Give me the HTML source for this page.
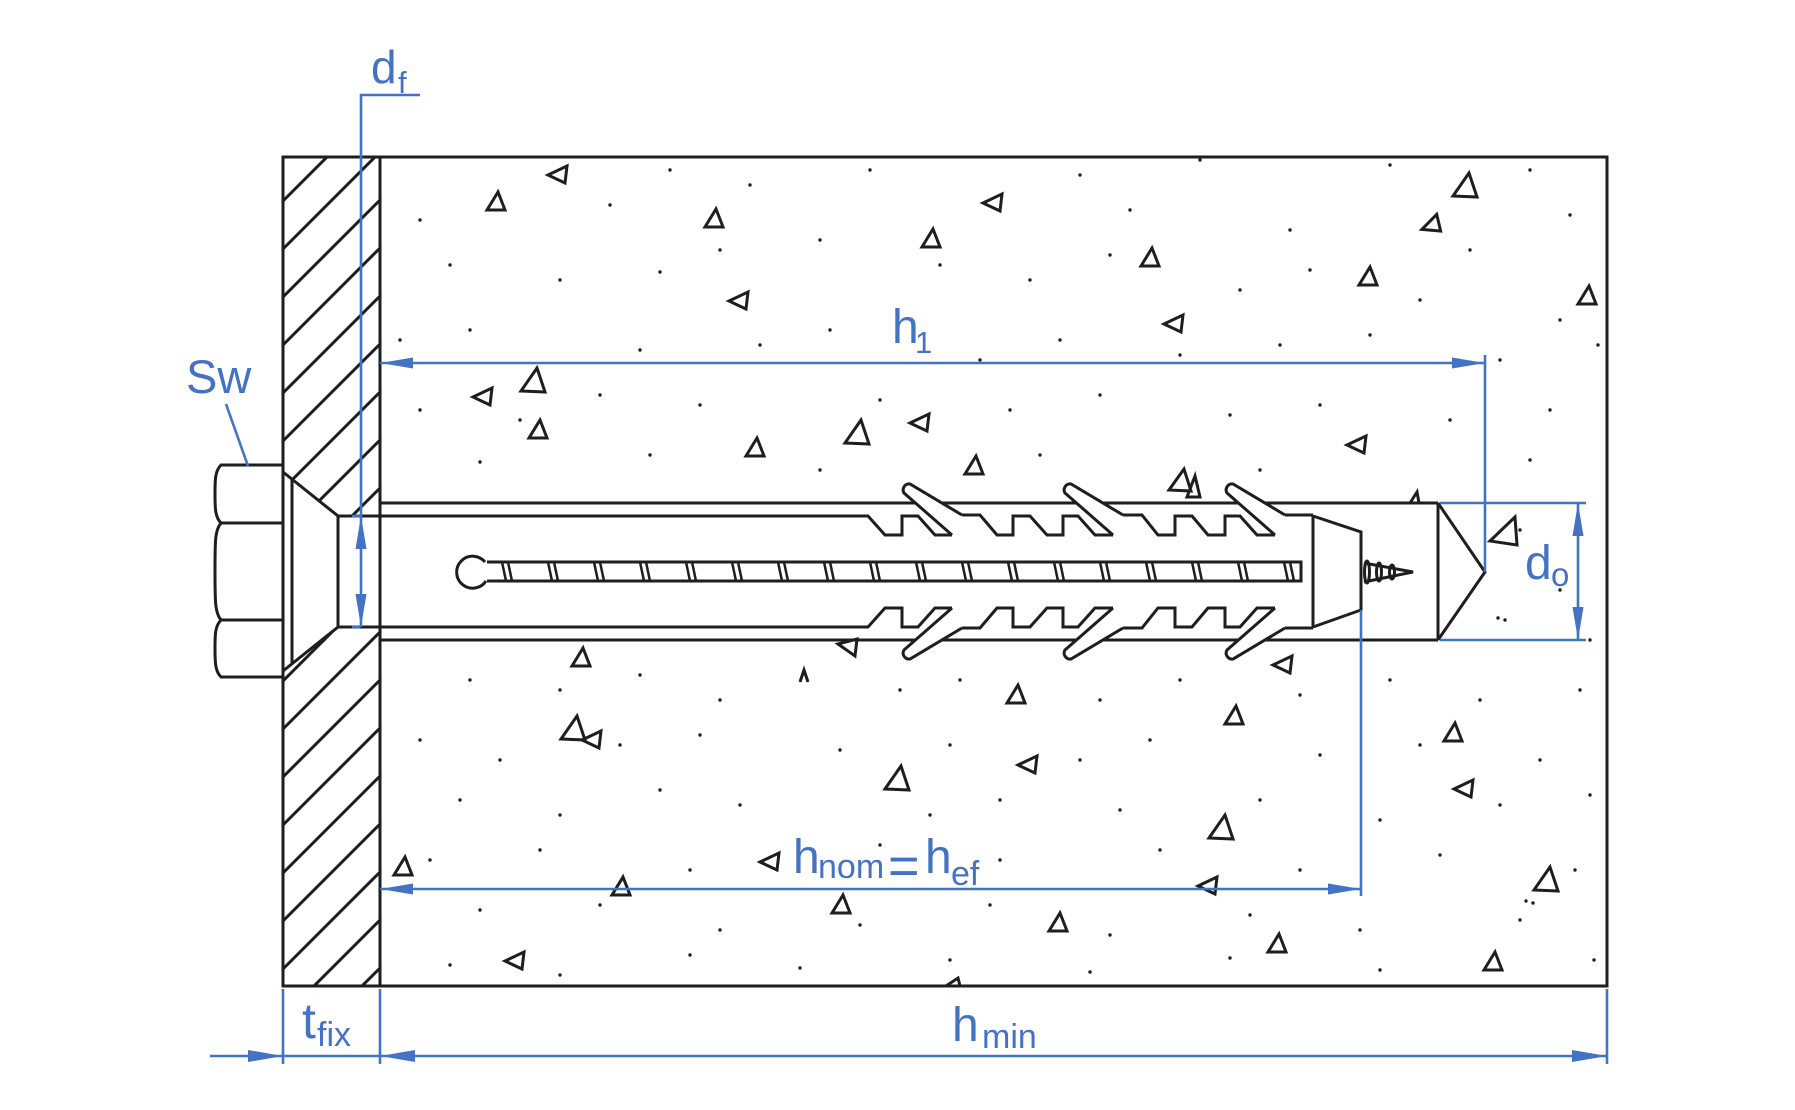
<!DOCTYPE html>
<html>
<head>
<meta charset="utf-8">
<style>
html,body{margin:0;padding:0;background:#fff;}
body{width:1795px;height:1110px;overflow:hidden;}
svg{display:block;}
text{font-family:"Liberation Sans",Arial,sans-serif;fill:#4472c4;}
</style>
</head>
<body>
<svg width="1795" height="1110" viewBox="0 0 1795 1110" xmlns="http://www.w3.org/2000/svg">
<defs>
<clipPath id="plate"><rect x="283" y="157" width="97" height="829"/></clipPath>
</defs>

<!-- hatch in plate -->
<g clip-path="url(#plate)" stroke="#1e1e1e" stroke-width="3">
<line x1="283" y1="153" x2="380" y2="56"/>
<line x1="283" y1="201" x2="380" y2="104"/>
<line x1="283" y1="249" x2="380" y2="152"/>
<line x1="283" y1="297" x2="380" y2="200"/>
<line x1="283" y1="345" x2="380" y2="248"/>
<line x1="283" y1="393" x2="380" y2="296"/>
<line x1="283" y1="441" x2="380" y2="344"/>
<line x1="283" y1="489" x2="380" y2="392"/>
<line x1="283" y1="537" x2="380" y2="440"/>
<line x1="283" y1="585" x2="380" y2="488"/>
<line x1="283" y1="633" x2="380" y2="536"/>
<line x1="283" y1="681" x2="380" y2="584"/>
<line x1="283" y1="729" x2="380" y2="632"/>
<line x1="283" y1="777" x2="380" y2="680"/>
<line x1="283" y1="825" x2="380" y2="728"/>
<line x1="283" y1="873" x2="380" y2="776"/>
<line x1="283" y1="921" x2="380" y2="824"/>
<line x1="283" y1="969" x2="380" y2="872"/>
<line x1="283" y1="1017" x2="380" y2="920"/>
<line x1="283" y1="1065" x2="380" y2="968"/>
<line x1="283" y1="1113" x2="380" y2="1016"/>
</g>
<!-- clear countersink + hole -->
<polygon points="283,472 338,516 380,516 380,627 338,627 283,671" fill="#fff"/>

<!-- concrete dots -->
<g fill="#1e1e1e">
<circle cx="670" cy="170" r="1.7"/><circle cx="750" cy="185" r="1.7"/><circle cx="870" cy="170" r="1.7"/><circle cx="1080" cy="175" r="1.7"/><circle cx="1200" cy="160" r="1.7"/><circle cx="1390" cy="165" r="1.7"/><circle cx="1530" cy="170" r="1.7"/>
<circle cx="420" cy="220" r="1.7"/><circle cx="610" cy="205" r="1.7"/><circle cx="820" cy="240" r="1.7"/><circle cx="1130" cy="210" r="1.7"/><circle cx="1290" cy="230" r="1.7"/><circle cx="1470" cy="250" r="1.7"/><circle cx="1570" cy="215" r="1.7"/>
<circle cx="450" cy="265" r="1.7"/><circle cx="560" cy="280" r="1.7"/><circle cx="660" cy="272" r="1.7"/><circle cx="720" cy="250" r="1.7"/><circle cx="940" cy="265" r="1.7"/><circle cx="1030" cy="280" r="1.7"/><circle cx="1110" cy="255" r="1.7"/><circle cx="1240" cy="290" r="1.7"/><circle cx="1310" cy="270" r="1.7"/><circle cx="1420" cy="300" r="1.7"/><circle cx="1560" cy="320" r="1.7"/>
<circle cx="400" cy="340" r="1.7"/><circle cx="470" cy="330" r="1.7"/><circle cx="640" cy="350" r="1.7"/><circle cx="760" cy="345" r="1.7"/><circle cx="830" cy="330" r="1.7"/><circle cx="980" cy="360" r="1.7"/><circle cx="1060" cy="340" r="1.7"/><circle cx="1180" cy="355" r="1.7"/><circle cx="1280" cy="345" r="1.7"/><circle cx="1370" cy="335" r="1.7"/><circle cx="1500" cy="360" r="1.7"/><circle cx="1598" cy="345" r="1.7"/>
<circle cx="420" cy="410" r="1.7"/><circle cx="520" cy="420" r="1.7"/><circle cx="600" cy="395" r="1.7"/><circle cx="700" cy="405" r="1.7"/><circle cx="880" cy="400" r="1.7"/><circle cx="1010" cy="410" r="1.7"/><circle cx="1100" cy="395" r="1.7"/><circle cx="1230" cy="415" r="1.7"/><circle cx="1320" cy="405" r="1.7"/><circle cx="1450" cy="420" r="1.7"/><circle cx="1550" cy="410" r="1.7"/>
<circle cx="480" cy="462" r="1.7"/><circle cx="650" cy="455" r="1.7"/><circle cx="820" cy="470" r="1.7"/><circle cx="1040" cy="455" r="1.7"/><circle cx="1260" cy="470" r="1.7"/><circle cx="1530" cy="460" r="1.7"/><circle cx="1560" cy="590" r="1.7"/><circle cx="1505" cy="620" r="1.7"/><circle cx="1590" cy="640" r="1.7"/><circle cx="1520" cy="530" r="1.7"/><circle cx="1498" cy="618" r="1.7"/>
<circle cx="470" cy="680" r="1.7"/><circle cx="560" cy="690" r="1.7"/><circle cx="640" cy="675" r="1.7"/><circle cx="720" cy="700" r="1.7"/><circle cx="900" cy="690" r="1.7"/><circle cx="960" cy="680" r="1.7"/><circle cx="1100" cy="700" r="1.7"/><circle cx="1180" cy="680" r="1.7"/><circle cx="1300" cy="695" r="1.7"/><circle cx="1390" cy="680" r="1.7"/><circle cx="1480" cy="700" r="1.7"/><circle cx="1580" cy="690" r="1.7"/>
<circle cx="420" cy="740" r="1.7"/><circle cx="500" cy="760" r="1.7"/><circle cx="620" cy="745" r="1.7"/><circle cx="700" cy="735" r="1.7"/><circle cx="840" cy="750" r="1.7"/><circle cx="950" cy="745" r="1.7"/><circle cx="1080" cy="760" r="1.7"/><circle cx="1150" cy="740" r="1.7"/><circle cx="1320" cy="755" r="1.7"/><circle cx="1420" cy="745" r="1.7"/><circle cx="1540" cy="760" r="1.7"/>
<circle cx="460" cy="800" r="1.7"/><circle cx="560" cy="815" r="1.7"/><circle cx="660" cy="790" r="1.7"/><circle cx="740" cy="805" r="1.7"/><circle cx="930" cy="815" r="1.7"/><circle cx="1000" cy="800" r="1.7"/><circle cx="1120" cy="810" r="1.7"/><circle cx="1260" cy="800" r="1.7"/><circle cx="1380" cy="820" r="1.7"/><circle cx="1500" cy="805" r="1.7"/><circle cx="1590" cy="795" r="1.7"/>
<circle cx="430" cy="860" r="1.7"/><circle cx="540" cy="850" r="1.7"/><circle cx="690" cy="870" r="1.7"/><circle cx="880" cy="845" r="1.7"/><circle cx="1000" cy="860" r="1.7"/><circle cx="1160" cy="850" r="1.7"/><circle cx="1300" cy="870" r="1.7"/><circle cx="1440" cy="855" r="1.7"/><circle cx="1575" cy="870" r="1.7"/>
<circle cx="480" cy="910" r="1.7"/><circle cx="600" cy="905" r="1.7"/><circle cx="720" cy="930" r="1.7"/><circle cx="860" cy="925" r="1.7"/><circle cx="990" cy="905" r="1.7"/><circle cx="1110" cy="935" r="1.7"/><circle cx="1250" cy="915" r="1.7"/><circle cx="1360" cy="930" r="1.7"/><circle cx="1520" cy="920" r="1.7"/>
<circle cx="450" cy="965" r="1.7"/><circle cx="560" cy="975" r="1.7"/><circle cx="690" cy="955" r="1.7"/><circle cx="800" cy="968" r="1.7"/><circle cx="950" cy="960" r="1.7"/><circle cx="1090" cy="972" r="1.7"/><circle cx="1230" cy="958" r="1.7"/><circle cx="1380" cy="970" r="1.7"/><circle cx="1594" cy="960" r="1.7"/><circle cx="1526" cy="901" r="1.7"/><circle cx="1533" cy="903" r="1.7"/>
</g>

<!-- concrete triangles -->
<g fill="none" stroke="#1e1e1e" stroke-width="3" stroke-linejoin="miter">
<polygon transform="translate(558,174)" points="-10,1 9,-8 7,9"/>
<polygon transform="translate(496,202)" points="2,-10 -9,8 9,8"/>
<polygon transform="translate(714,219)" points="2,-10 -9,8 9,8"/>
<polygon transform="translate(993,202)" points="-10,1 9,-8 7,9"/>
<polygon transform="translate(931,239)" points="2,-10 -9,8 9,8"/>
<polygon transform="translate(1150,258)" points="2,-10 -9,8 9,8"/>
<polygon transform="translate(1465,186)" points="4,-13 -12,10 12,11"/>
<polygon transform="translate(1431,225) rotate(-20)" points="-10,1 9,-8 7,9"/>
<polygon transform="translate(1368,277)" points="2,-10 -9,8 9,8"/>
<polygon transform="translate(1587,296)" points="2,-10 -9,8 9,8"/>
<polygon transform="translate(739,300)" points="-10,1 9,-8 7,9"/>
<polygon transform="translate(1174,323)" points="-10,1 9,-8 7,9"/>
<polygon transform="translate(483,396)" points="-10,1 9,-8 7,9"/>
<polygon transform="translate(533,381)" points="4,-13 -12,10 12,11"/>
<polygon transform="translate(538,430)" points="2,-10 -9,8 9,8"/>
<polygon transform="translate(755,448)" points="2,-10 -9,8 9,8"/>
<polygon transform="translate(857,433)" points="4,-13 -12,10 12,11"/>
<polygon transform="translate(920,422)" points="-10,1 9,-8 7,9"/>
<polygon transform="translate(974,466)" points="2,-10 -9,8 9,8"/>
<polygon transform="translate(1180,481)" points="4,-12 -11,9 11,10"/>
<polygon transform="translate(1192,487)" points="3,-11 -5,10 8,10"/>
<polygon transform="translate(1357,444)" points="-10,1 9,-8 7,9"/>
<polygon points="1515,517 1490,541 1517,545"/>
<polygon transform="translate(581,658)" points="2,-10 -9,8 9,8"/>
<polygon transform="translate(1283,664)" points="-10,1 9,-8 7,9"/>
<polygon transform="translate(1016,695)" points="2,-10 -9,8 9,8"/>
<polygon transform="translate(1234,716)" points="2,-10 -9,8 9,8"/>
<polygon transform="translate(573,729)" points="4,-13 -12,10 12,11"/>
<polygon transform="translate(592,739)" points="-10,1 9,-8 7,9"/>
<polygon transform="translate(1453,733)" points="2,-10 -9,8 9,8"/>
<polygon transform="translate(1028,764)" points="-10,1 9,-8 7,9"/>
<polygon transform="translate(897,779)" points="4,-13 -12,10 12,11"/>
<polygon transform="translate(1464,788)" points="-10,1 9,-8 7,9"/>
<polygon transform="translate(1221,828)" points="4,-13 -12,10 12,11"/>
<polygon transform="translate(403,867)" points="2,-10 -9,8 9,8"/>
<polygon transform="translate(770,861)" points="-10,1 9,-8 7,9"/>
<polygon transform="translate(621,887)" points="2,-10 -9,8 9,8"/>
<polygon transform="translate(1208,885)" points="-10,1 9,-8 7,9"/>
<polygon transform="translate(1546,880)" points="4,-13 -12,10 12,11"/>
<polygon transform="translate(841,905)" points="2,-10 -9,8 9,8"/>
<polygon transform="translate(1058,923)" points="2,-10 -9,8 9,8"/>
<polygon transform="translate(1277,944)" points="2,-10 -9,8 9,8"/>
<polygon transform="translate(515,960)" points="-10,1 9,-8 7,9"/>
<polygon transform="translate(1493,962)" points="2,-10 -9,8 9,8"/>
<polyline points="946,986 958,978 960,986"/>
<polygon transform="translate(848,647)" points="-10,-3 9,-8 7,9"/>
<polyline points="1410,503 1417,492 1419,503"/>
<polyline points="800,682 804,670 808,682"/>
</g>

<!-- box outlines -->
<g fill="none" stroke="#1e1e1e" stroke-width="3">
<rect x="283" y="157" width="1324" height="829"/>
<line x1="380" y1="157" x2="380" y2="986"/>
</g>

<!-- hex head -->
<g fill="#fff" stroke="#1e1e1e" stroke-width="3" stroke-linejoin="round">
<path d="M283,465 L221,465 C215,471 215,480 215,494 C215,508 215,517 221,523 C215,530 215,540 215,571 C215,602 215,613 221,620 C215,626 215,635 215,648 C215,662 215,671 221,677 L283,677 Z"/>
<line x1="221" y1="523" x2="283" y2="523"/>
<line x1="221" y1="620" x2="283" y2="620"/>
</g>

<!-- countersunk head + hole -->
<g fill="none" stroke="#1e1e1e" stroke-width="3" stroke-linejoin="miter">
<polyline points="283,472 338,516 338,627 283,671"/>
<line x1="292" y1="479" x2="292" y2="664"/>
<line x1="283" y1="157" x2="283" y2="986"/>
</g>

<!-- anchor body (top half, and mirrored) -->
<g id="half" fill="none" stroke="#1e1e1e" stroke-width="3" stroke-linejoin="miter">
<line x1="380" y1="503" x2="1438" y2="503"/>
<path d="M338,516 L868,516 L885,535 L902,535 L902,516 L918,516 L935,535 L952,535
M962,515 L980,515 L997,535 L1013,535 L1013,516 L1030,516 L1047,535 L1063,535 L1063,516 L1078,516 L1095,535 L1113,535
M1123,515 L1142,515 L1158,535 L1175,535 L1175,516 L1192,516 L1208,535 L1225,535 L1225,516 L1240,516 L1257,535 L1275,535
M1285,515 L1313,515"/>
<path fill="#fff" d="M952,535 L904,493 A6,6 0 0 1 910,484 L962,515 Z" stroke="none"/>
<path d="M952,535 L904,493 A6,6 0 0 1 910,484 L962,515"/>
<path fill="#fff" d="M1113,535 L1065,493 A6,6 0 0 1 1071,484 L1123,515 Z" stroke="none"/>
<path d="M1113,535 L1065,493 A6,6 0 0 1 1071,484 L1123,515"/>
<path fill="#fff" d="M1275,535 L1227,493 A6,6 0 0 1 1233,484 L1285,515 Z" stroke="none"/>
<path d="M1275,535 L1227,493 A6,6 0 0 1 1233,484 L1285,515"/>
</g>
<g transform="translate(0,1143) scale(1,-1)" fill="none" stroke="#1e1e1e" stroke-width="3" stroke-linejoin="miter">
<line x1="380" y1="503" x2="1438" y2="503"/>
<path d="M338,516 L868,516 L885,535 L902,535 L902,516 L918,516 L935,535 L952,535
M962,515 L980,515 L997,535 L1013,535 L1013,516 L1030,516 L1047,535 L1063,535 L1063,516 L1078,516 L1095,535 L1113,535
M1123,515 L1142,515 L1158,535 L1175,535 L1175,516 L1192,516 L1208,535 L1225,535 L1225,516 L1240,516 L1257,535 L1275,535
M1285,515 L1313,515"/>
<path fill="#fff" d="M952,535 L904,493 A6,6 0 0 1 910,484 L962,515 Z" stroke="none"/>
<path d="M952,535 L904,493 A6,6 0 0 1 910,484 L962,515"/>
<path fill="#fff" d="M1113,535 L1065,493 A6,6 0 0 1 1071,484 L1123,515 Z" stroke="none"/>
<path d="M1113,535 L1065,493 A6,6 0 0 1 1071,484 L1123,515"/>
<path fill="#fff" d="M1275,535 L1227,493 A6,6 0 0 1 1233,484 L1285,515 Z" stroke="none"/>
<path d="M1275,535 L1227,493 A6,6 0 0 1 1233,484 L1285,515"/>
</g>

<!-- end pieces -->
<g fill="none" stroke="#1e1e1e" stroke-width="3" stroke-linejoin="miter">
<line x1="1438" y1="503" x2="1438" y2="640"/>
<polyline points="1438,503 1485,572 1438,640"/>
<polyline points="1313,515 1313,628"/>
<polyline points="1313,516 1361,532 1361,610 1313,627"/>
<!-- small screw tip -->
<polyline points="1364,563 1413,572 1364,582"/>
<ellipse cx="1367" cy="572" rx="2.5" ry="11"/>
<ellipse cx="1379" cy="572" rx="2.5" ry="9"/>
<ellipse cx="1392" cy="572" rx="2.5" ry="7"/>
</g>

<!-- inner screw shank -->
<g fill="none" stroke="#1e1e1e" stroke-width="3">
<path d="M487,562 L1301,562 L1301,581 L487,581"/>
<path d="M485,562 A16,16 0 1 0 486,581"/>
</g>
<g stroke="#1e1e1e" stroke-width="2.5">
<line x1="502" y1="562" x2="506" y2="581"/><line x1="508" y1="562" x2="512" y2="581"/>
<line x1="548" y1="562" x2="552" y2="581"/><line x1="554" y1="562" x2="558" y2="581"/>
<line x1="594" y1="562" x2="598" y2="581"/><line x1="600" y1="562" x2="604" y2="581"/>
<line x1="640" y1="562" x2="644" y2="581"/><line x1="646" y1="562" x2="650" y2="581"/>
<line x1="686" y1="562" x2="690" y2="581"/><line x1="692" y1="562" x2="696" y2="581"/>
<line x1="732" y1="562" x2="736" y2="581"/><line x1="738" y1="562" x2="742" y2="581"/>
<line x1="778" y1="562" x2="782" y2="581"/><line x1="784" y1="562" x2="788" y2="581"/>
<line x1="824" y1="562" x2="828" y2="581"/><line x1="830" y1="562" x2="834" y2="581"/>
<line x1="870" y1="562" x2="874" y2="581"/><line x1="876" y1="562" x2="880" y2="581"/>
<line x1="916" y1="562" x2="920" y2="581"/><line x1="922" y1="562" x2="926" y2="581"/>
<line x1="962" y1="562" x2="966" y2="581"/><line x1="968" y1="562" x2="972" y2="581"/>
<line x1="1008" y1="562" x2="1012" y2="581"/><line x1="1014" y1="562" x2="1018" y2="581"/>
<line x1="1054" y1="562" x2="1058" y2="581"/><line x1="1060" y1="562" x2="1064" y2="581"/>
<line x1="1100" y1="562" x2="1104" y2="581"/><line x1="1106" y1="562" x2="1110" y2="581"/>
<line x1="1146" y1="562" x2="1150" y2="581"/><line x1="1152" y1="562" x2="1156" y2="581"/>
<line x1="1192" y1="562" x2="1196" y2="581"/><line x1="1198" y1="562" x2="1202" y2="581"/>
<line x1="1238" y1="562" x2="1242" y2="581"/><line x1="1244" y1="562" x2="1248" y2="581"/>
<line x1="1284" y1="562" x2="1288" y2="581"/><line x1="1290" y1="562" x2="1294" y2="581"/>
</g>

<!-- dimension lines (blue) -->
<g stroke="#4472c4" stroke-width="2.6" fill="none">
<!-- df -->
<polyline points="420,95 361,95 361,627"/>
<line x1="352" y1="516" x2="360" y2="516"/>
<line x1="352" y1="627" x2="360" y2="627"/>
<!-- Sw leader -->
<line x1="226" y1="404" x2="248" y2="466"/>
<!-- h1 -->
<line x1="380" y1="363" x2="1485" y2="363"/>
<line x1="1485" y1="355" x2="1485" y2="572"/>
<!-- hnom -->
<line x1="380" y1="889" x2="1361" y2="889"/>
<line x1="1361" y1="610" x2="1361" y2="896"/>
<!-- hmin / tfix -->
<line x1="210" y1="1056" x2="1607" y2="1056"/>
<line x1="283" y1="989" x2="283" y2="1064"/>
<line x1="380" y1="989" x2="380" y2="1064"/>
<line x1="1607" y1="989" x2="1607" y2="1064"/>
<!-- d0 -->
<line x1="1440" y1="503" x2="1586" y2="503"/>
<line x1="1440" y1="640" x2="1586" y2="640"/>
<line x1="1578" y1="503" x2="1578" y2="640"/>
</g>
<g fill="#4472c4" stroke="none">
<!-- df arrows -->
<polygon points="361,516 355.5,549 366.5,549"/>
<polygon points="361,627 355.5,594 366.5,594"/>
<!-- h1 arrows -->
<polygon points="380,363 413,357.5 413,368.5"/>
<polygon points="1485,363 1452,357.5 1452,368.5"/>
<!-- hnom arrows -->
<polygon points="380,889 413,883.5 413,894.5"/>
<polygon points="1361,889 1328,883.5 1328,894.5"/>
<!-- hmin/tfix arrows -->
<polygon points="283,1056 248,1050 248,1062"/>
<polygon points="380,1056 415,1050 415,1062"/>
<polygon points="1607,1056 1572,1050 1572,1062"/>
<!-- d0 arrows -->
<polygon points="1578,503 1572.5,536 1583.5,536"/>
<polygon points="1578,640 1572.5,607 1583.5,607"/>
</g>

<!-- labels -->
<text x="371" y="83" font-size="46">d</text>
<text x="398" y="93" font-size="31">f</text>
<text x="186" y="393" font-size="47">Sw</text>
<text x="892" y="343" font-size="48">h</text>
<text x="915" y="353" font-size="31">1</text>
<text x="793" y="873" font-size="48">h</text>
<text x="818" y="878" font-size="34">nom</text>
<text x="888" y="884" font-size="54">=</text>
<text x="925" y="873" font-size="48">h</text>
<text x="951" y="885" font-size="34">ef</text>
<text x="302" y="1038" font-size="50">t</text>
<text x="317" y="1046" font-size="34">fix</text>
<text x="952" y="1041" font-size="48">h</text>
<text x="982" y="1048" font-size="34">min</text>
<text x="1525" y="579" font-size="48">d</text>
<text x="1551" y="586" font-size="33">o</text>
</svg>
</body>
</html>
